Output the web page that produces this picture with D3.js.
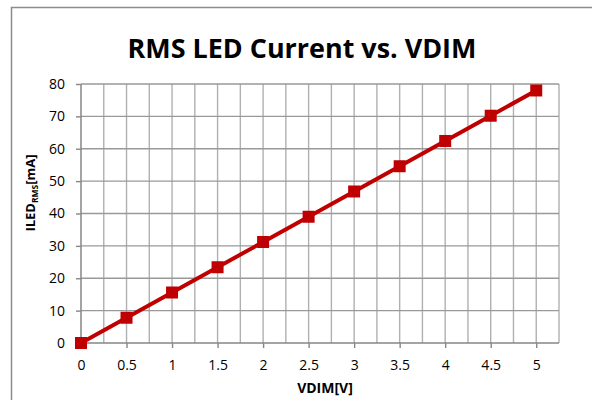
<!DOCTYPE html>
<html><head><meta charset="utf-8">
<script src="https://cdn.jsdelivr.net/npm/d3@7"></script>
<style>body{margin:0;background:#fff}svg{display:block}text{font-family:"Open Sans","Liberation Sans",sans-serif}</style>
</head><body><svg id="c" width="592" height="400"></svg>
<script>
const vdim = [0, 0.5, 1, 1.5, 2, 2.5, 3, 3.5, 4, 4.5, 5];
const iledRms = [0, 7.8, 15.6, 23.4, 31.2, 39.0, 46.8, 54.6, 62.4, 70.2, 78.0];
const xTicks = [0, 0.5, 1, 1.5, 2, 2.5, 3, 3.5, 4, 4.5, 5];
const yTicks = [0, 10, 20, 30, 40, 50, 60, 70, 80];
const title = "RMS LED Current vs. VDIM";

const svg = d3.select("#c");
const m = {l: 81, r: 559, t: 84, b: 343};
const x = d3.scaleLinear().domain([0, 5.25]).range([m.l, m.r]);
const y = d3.scaleLinear().domain([0, 80]).range([m.b, m.t]);

svg.append("rect").attr("x", 11.5).attr("y", 7.5).attr("width", 600).attr("height", 420)
  .attr("fill", "#fff").attr("stroke", "#8c8c8c").attr("stroke-width", 1.5);

// vertical gridlines every 0.25
const vGrid = d3.range(0, 21).map(i => i * 0.25 + 0.25);
svg.append("g").selectAll("line").data(vGrid).join("line")
  .attr("x1", d => x(d)).attr("x2", d => x(d)).attr("y1", m.t).attr("y2", m.b)
  .attr("stroke", "#b0b0b0").attr("stroke-width", 1.4);
svg.append("g").selectAll("line").data(yTicks.slice(1)).join("line")
  .attr("x1", m.l).attr("x2", m.r).attr("y1", d => y(d)).attr("y2", d => y(d))
  .attr("stroke", "#999").attr("stroke-width", 1.4);

// axes
const xAxis = d3.axisBottom(x).tickValues(xTicks).tickSize(5).tickPadding(12).tickFormat(d => d);
const yAxis = d3.axisLeft(y).tickValues(yTicks).tickSize(5).tickPadding(11);
const gx = svg.append("g").attr("transform", `translate(0,${m.b})`).call(xAxis);
const gy = svg.append("g").attr("transform", `translate(${m.l},0)`).call(yAxis);
[gx, gy].forEach(g => {
  g.select(".domain").remove();
  g.selectAll("line").attr("stroke", "#868686").attr("stroke-width", 1.4);
  g.selectAll("text").attr("font-size", 14).attr("fill", "#000");
});
svg.append("line").attr("x1", m.l).attr("x2", m.r).attr("y1", m.b).attr("y2", m.b).attr("stroke", "#868686").attr("stroke-width", 1.5);
svg.append("line").attr("x1", m.l).attr("x2", m.l).attr("y1", m.t).attr("y2", m.b).attr("stroke", "#868686").attr("stroke-width", 1.5);

// line + markers
svg.append("path").datum(vdim.map((v, i) => [v, iledRms[i]]))
  .attr("d", d3.line().x(d => x(d[0])).y(d => y(d[1])))
  .attr("fill", "none").attr("stroke", "#c00000").attr("stroke-width", 4);
svg.append("g").selectAll("rect").data(vdim.map((v, i) => [v, iledRms[i]])).join("rect")
  .attr("x", d => x(d[0]) - 6).attr("y", d => y(d[1]) - 6).attr("width", 12).attr("height", 12)
  .attr("fill", "#c00000");

// title
const t = svg.append("text").attr("x", 302).attr("y", 58).attr("text-anchor", "middle")
  .attr("font-weight", "bold").attr("font-size", 28).attr("fill", "#000").text(title);
const w = t.node().getComputedTextLength();
t.attr("font-size", 28 * 349 / w);

// axis titles
svg.append("text").attr("x", 325).attr("y", 393).attr("text-anchor", "middle")
  .attr("font-weight", "bold").attr("font-size", 14).attr("fill", "#000").text("VDIM[V]");
const yt = svg.append("text").attr("transform", "translate(35,193) rotate(-90)").attr("text-anchor", "middle")
  .attr("font-weight", "bold").attr("font-size", 13).attr("fill", "#000");
yt.append("tspan").text("ILED");
yt.append("tspan").attr("font-size", 8.5).attr("dy", 3).text("RMS");
yt.append("tspan").attr("dy", -3).text("[mA]");
</script></body></html>
